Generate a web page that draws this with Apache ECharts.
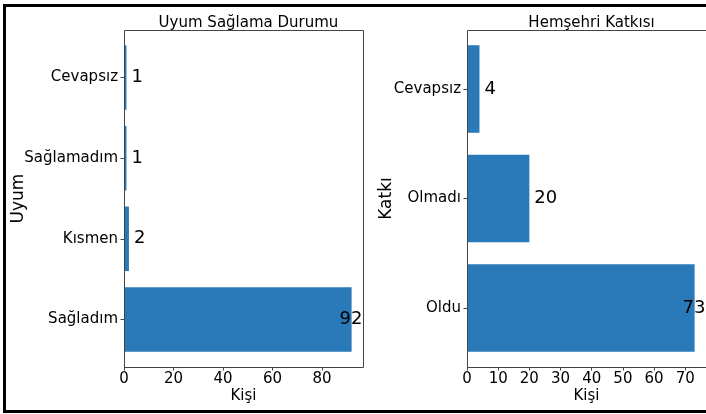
<!DOCTYPE html>
<html>
<head>
<meta charset="utf-8">
<script src="https://cdn.jsdelivr.net/npm/echarts@6/dist/echarts.min.js"></script>
<style>
  html, body { margin: 0; padding: 0; background: #fff; }
  #chart { width: 706px; height: 414px; }
</style>
</head>
<body>
<div id="chart"></div>
<script>
// data (bottom to top, like barh)
const uyumCategories = ["Sağladım", "Kısmen", "Sağlamadım", "Cevapsız"];
const uyumValues = [92, 2, 1, 1];
const uyumTicks = [0, 20, 40, 60, 80];

const katkiCategories = ["Oldu", "Olmadı", "Cevapsız"];
const katkiValues = [73, 20, 4];
const katkiTicks = [0, 10, 20, 30, 40, 50, 60, 70];

const FONT = "DejaVu Sans";
const BAR = "#2a7ab9";
const SPINE = "#444";

// axes boxes in px
const boxes = [
  { x: 124, y: 30, w: 239, h: 337 },
  { x: 467, y: 30, w: 239, h: 337 }
];

function panel(i, cats, vals, ticks, title, yName, yGap) {
  const b = boxes[i];
  const n = cats.length;
  // matplotlib barh: range (n-0.2) plus 5% margins each side
  const unit = b.h / ((n - 0.2) * 1.1);
  const inset = (b.h - n * unit) / 2;
  const vmax = Math.max(...vals);
  return {
    grid: { left: b.x, top: b.y + inset, width: b.w, height: b.h - 2 * inset },
    title: {
      text: title, left: b.x + b.w / 2, top: 11, textAlign: "center",
      textStyle: { fontFamily: FONT, fontSize: 15, fontWeight: "normal", color: "#000" }
    },
    xAxis: {
      type: "value", gridIndex: i, min: 0, max: vmax * 1.05,
      interval: ticks[1] - ticks[0], offset: inset,
      axisLine: { show: false },
      splitLine: { show: false },
      axisTick: { show: true, length: 3.5, customValues: ticks, lineStyle: { color: SPINE } },
      axisLabel: { customValues: ticks, fontFamily: FONT, fontSize: 15, color: "#000", margin: 5 },
      name: "Kişi", nameLocation: "middle", nameGap: 22, nameMoveOverlap: false,
      nameTextStyle: { fontFamily: FONT, fontSize: 15, color: "#000" }
    },
    yAxis: {
      type: "category", gridIndex: i, data: cats,
      axisLine: { show: false },
      axisTick: { show: true, alignWithLabel: true, length: 3.5, lineStyle: { color: SPINE } },
      axisLabel: { fontFamily: FONT, fontSize: 15, color: "#000", margin: 6 },
      name: yName, nameLocation: "middle", nameRotate: 90, nameGap: yGap, nameMoveOverlap: false,
      nameTextStyle: { fontFamily: FONT, fontSize: 17, color: "#000" }
    },
    series: {
      type: "bar", xAxisIndex: i, yAxisIndex: i,
      barCategoryGap: "20%",
      itemStyle: { color: BAR },
      data: vals.map(v => v === vmax ? { value: v, label: { offset: [-17, 0] } } : v),
      label: {
        show: true, position: "right", distance: 5,
        fontFamily: FONT, fontSize: 18, color: "#000"
      }
    },
    box: {
      type: "rect", silent: true, z: 10,
      shape: { x: b.x + 0.5, y: b.y + 0.5, width: b.w, height: b.h },
      style: { fill: null, stroke: SPINE, lineWidth: 1 }
    }
  };
}

const p1 = panel(0, uyumCategories, uyumValues, uyumTicks, "Uyum Sağlama Durumu", "Uyum", 97);
const p2 = panel(1, katkiCategories, katkiValues, katkiTicks, "Hemşehri Katkısı", "Katkı", 72);

const chart = echarts.init(document.getElementById("chart"));
chart.setOption({
  animation: false,
  backgroundColor: "#fff",
  title: [p1.title, p2.title],
  grid: [p1.grid, p2.grid],
  xAxis: [p1.xAxis, p2.xAxis],
  yAxis: [p1.yAxis, p2.yAxis],
  series: [p1.series, p2.series],
  graphic: [
    p1.box,
    p2.box,
    {
      type: "rect", silent: true, z: 20,
      shape: { x: 4.5, y: 5.5, width: 760, height: 406 },
      style: { fill: null, stroke: "#000", lineWidth: 3 }
    }
  ]
});
</script>
</body>
</html>
